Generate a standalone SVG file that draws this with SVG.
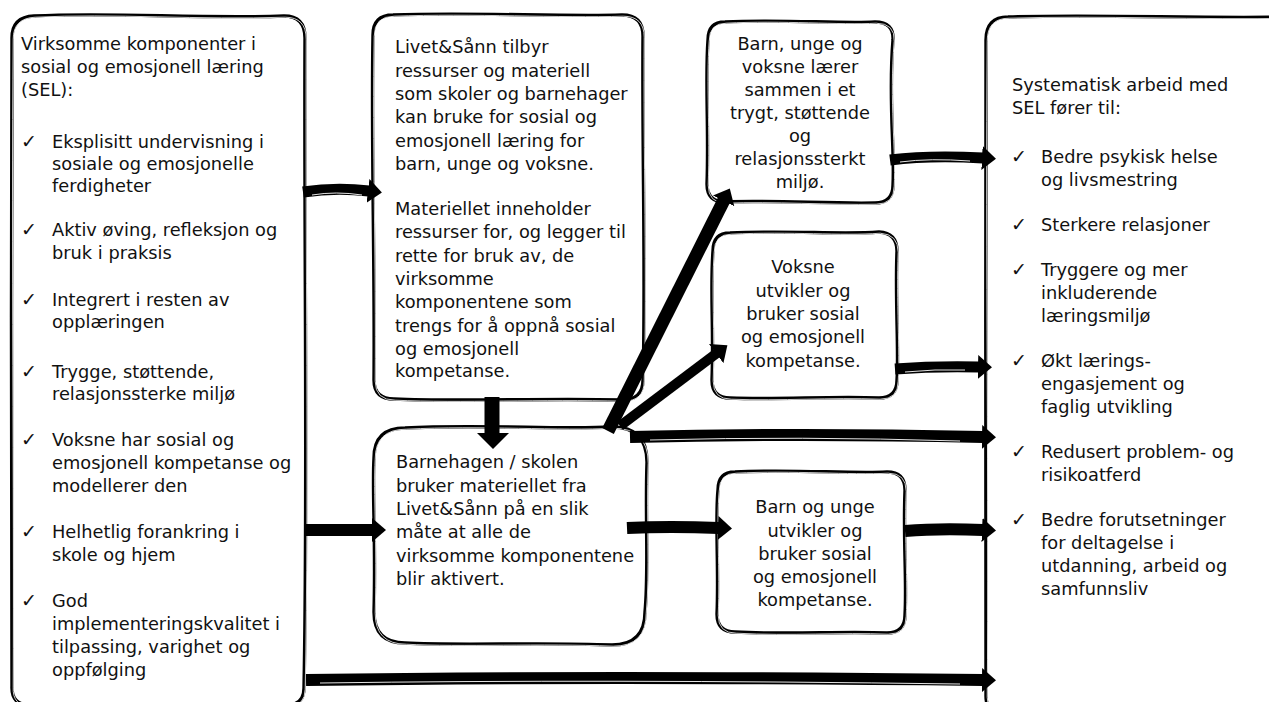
<svg xmlns="http://www.w3.org/2000/svg" width="1269" height="702" viewBox="0 0 1269 702">
<style>
.box{fill:#fff;stroke:#000;stroke-width:3.4;stroke-linejoin:round}
.inner{fill:none;stroke:#fff;stroke-width:0.8}
.t{font-family:"DejaVu Sans",sans-serif;font-size:17.8px;fill:#111}
.ck{font-family:"DejaVu Sans",sans-serif;font-size:19px;fill:#111}
.c{text-anchor:middle}
.arr{fill:none;stroke:#000;stroke-linecap:butt}
.hl{fill:none;stroke:#fff;stroke-width:0.9}
</style>
<defs>
<marker id="ah" markerUnits="userSpaceOnUse" markerWidth="16" markerHeight="26" refX="1" refY="12" orient="auto">
<path d="M0,0 L14,12 L0,24 Z" fill="#000"/>
</marker>
</defs>
<rect width="1269" height="702" fill="#fff"/>

<g id="node-left">
<path class="box" d="M34,16 C110,12 200,19 284,16 Q305,16 305,38 C304,250 308,480 304,688 Q304,705 287,705 L30,705 Q11,705 12,686 C13,480 10,250 12,38 Q12,17 34,16 Z"/>
<path class="inner" transform="translate(1.2,1.2)" d="M34,16 C110,12 200,19 284,16 Q305,16 305,38 C304,250 308,480 304,688 Q304,705 287,705 L30,705 Q11,705 12,686 C13,480 10,250 12,38 Q12,17 34,16 Z"/>
<text class="t" x="21" y="50">Virksomme komponenter i</text>
<text class="t" x="21" y="73">sosial og emosjonell læring</text>
<text class="t" x="21" y="96">(SEL):</text>
<text class="ck" x="21" y="148">✓</text>
<text class="t" x="52" y="148">Eksplisitt undervisning i</text>
<text class="t" x="52" y="170">sosiale og emosjonelle</text>
<text class="t" x="52" y="192">ferdigheter</text>
<text class="ck" x="21" y="236">✓</text>
<text class="t" x="52" y="236">Aktiv øving, refleksjon og</text>
<text class="t" x="52" y="259">bruk i praksis</text>
<text class="ck" x="21" y="306">✓</text>
<text class="t" x="52" y="306">Integrert i resten av</text>
<text class="t" x="52" y="328">opplæringen</text>
<text class="ck" x="21" y="378">✓</text>
<text class="t" x="52" y="378">Trygge, støttende,</text>
<text class="t" x="52" y="400">relasjonssterke miljø</text>
<text class="ck" x="21" y="446">✓</text>
<text class="t" x="52" y="446">Voksne har sosial og</text>
<text class="t" x="52" y="469">emosjonell kompetanse og</text>
<text class="t" x="52" y="492">modellerer den</text>
<text class="ck" x="21" y="538">✓</text>
<text class="t" x="52" y="538">Helhetlig forankring i</text>
<text class="t" x="52" y="561">skole og hjem</text>
<text class="ck" x="21" y="607">✓</text>
<text class="t" x="52" y="607">God</text>
<text class="t" x="52" y="630">implementeringskvalitet i</text>
<text class="t" x="52" y="653">tilpassing, varighet og</text>
<text class="t" x="52" y="676">oppfølging</text>
</g>

<g id="node-livet">
<path class="box" d="M393,15 C470,12 560,17 622,15 Q643,15 643,36 C642,150 646,280 643,380 Q643,400 622,400 C540,398 460,402 394,399 Q374,399 374,380 C375,260 371,140 373,35 Q373,15 393,15 Z"/>
<path class="inner" transform="translate(1.2,1.2)" d="M393,15 C470,12 560,17 622,15 Q643,15 643,36 C642,150 646,280 643,380 Q643,400 622,400 C540,398 460,402 394,399 Q374,399 374,380 C375,260 371,140 373,35 Q373,15 393,15 Z"/>
<text class="t" x="395" y="53">Livet&amp;Sånn tilbyr</text>
<text class="t" x="395" y="77">ressurser og materiell</text>
<text class="t" x="395" y="100">som skoler og barnehager</text>
<text class="t" x="395" y="123">kan bruke for sosial og</text>
<text class="t" x="395" y="147">emosjonell læring for</text>
<text class="t" x="395" y="170">barn, unge og voksne.</text>
<text class="t" x="395" y="215">Materiellet inneholder</text>
<text class="t" x="395" y="238">ressurser for, og legger til</text>
<text class="t" x="395" y="262">rette for bruk av, de</text>
<text class="t" x="395" y="285">virksomme</text>
<text class="t" x="395" y="308">komponentene som</text>
<text class="t" x="395" y="332">trengs for å oppnå sosial</text>
<text class="t" x="395" y="355">og emosjonell</text>
<text class="t" x="395" y="377">kompetanse.</text>
</g>

<g id="node-laerer">
<path class="box" d="M725,22 C780,19 840,24 875,22 Q894,22 893,40 C888,100 895,150 893,185 Q893,203 875,203 C830,204 770,200 725,202 Q707,202 707,184 C709,130 705,80 708,40 Q708,22 725,22 Z"/>
<path class="inner" transform="translate(1.2,1.2)" d="M725,22 C780,19 840,24 875,22 Q894,22 893,40 C888,100 895,150 893,185 Q893,203 875,203 C830,204 770,200 725,202 Q707,202 707,184 C709,130 705,80 708,40 Q708,22 725,22 Z"/>
<text class="t c" x="800" y="50">Barn, unge og</text>
<text class="t c" x="800" y="73">voksne lærer</text>
<text class="t c" x="800" y="96">sammen i et</text>
<text class="t c" x="800" y="119">trygt, støttende</text>
<text class="t c" x="800" y="142">og</text>
<text class="t c" x="800" y="165">relasjonssterkt</text>
<text class="t c" x="800" y="188">miljø.</text>
</g>

<g id="node-voksne">
<path class="box" d="M730,233 C790,230 840,235 879,232 Q897,233 897,251 C895,300 899,350 897,380 Q897,398 879,398 C830,396 780,400 730,398 Q712,398 712,380 C714,330 710,290 713,251 Q713,233 730,233 Z"/>
<path class="inner" transform="translate(1.2,1.2)" d="M730,233 C790,230 840,235 879,232 Q897,233 897,251 C895,300 899,350 897,380 Q897,398 879,398 C830,396 780,400 730,398 Q712,398 712,380 C714,330 710,290 713,251 Q713,233 730,233 Z"/>
<text class="t c" x="803" y="273">Voksne</text>
<text class="t c" x="803" y="297">utvikler og</text>
<text class="t c" x="803" y="320">bruker sosial</text>
<text class="t c" x="803" y="343">og emosjonell</text>
<text class="t c" x="803" y="367">kompetanse.</text>
</g>

<g id="node-barnehagen">
<path class="box" d="M405,428 C480,424 560,430 612,427 Q647,427 647,462 C645,520 649,570 645,612 Q645,645 612,645 C540,642 460,646 405,643 Q374,643 374,612 C376,540 372,490 374,458 Q374,428 405,428 Z"/>
<path class="inner" transform="translate(1.2,1.2)" d="M405,428 C480,424 560,430 612,427 Q647,427 647,462 C645,520 649,570 645,612 Q645,645 612,645 C540,642 460,646 405,643 Q374,643 374,612 C376,540 372,490 374,458 Q374,428 405,428 Z"/>
<text class="t" x="396" y="468">Barnehagen / skolen</text>
<text class="t" x="396" y="492">bruker materiellet fra</text>
<text class="t" x="396" y="515">Livet&amp;Sånn på en slik</text>
<text class="t" x="396" y="538">måte at alle de</text>
<text class="t" x="396" y="562">virksomme komponentene</text>
<text class="t" x="396" y="585">blir aktivert.</text>
</g>

<g id="node-barnunge">
<path class="box" d="M735,472 C790,469 850,474 887,472 Q905,472 905,490 C903,540 907,580 905,615 Q905,633 887,633 C840,631 790,635 735,632 Q717,632 717,614 C719,570 715,520 718,490 Q718,472 735,472 Z"/>
<path class="inner" transform="translate(1.2,1.2)" d="M735,472 C790,469 850,474 887,472 Q905,472 905,490 C903,540 907,580 905,615 Q905,633 887,633 C840,631 790,635 735,632 Q717,632 717,614 C719,570 715,520 718,490 Q718,472 735,472 Z"/>
<text class="t c" x="815" y="513">Barn og unge</text>
<text class="t c" x="815" y="537">utvikler og</text>
<text class="t c" x="815" y="560">bruker sosial</text>
<text class="t c" x="815" y="583">og emosjonell</text>
<text class="t c" x="815" y="606">kompetanse.</text>
</g>

<g id="node-right">
<path class="box" d="M1008,17 C1100,14 1200,19 1290,17 L1290,712 L1000,712 Q986,712 986,696 C988,500 984,250 986,40 Q986,17 1008,17 Z"/>
<path class="inner" transform="translate(1.2,1.2)" d="M1008,17 C1100,14 1200,19 1290,17 L1290,712 L1000,712 Q986,712 986,696 C988,500 984,250 986,40 Q986,17 1008,17 Z"/>
<text class="t" x="1012" y="91">Systematisk arbeid med</text>
<text class="t" x="1012" y="114">SEL fører til:</text>
<text class="ck" x="1011" y="163">✓</text>
<text class="t" x="1041" y="163">Bedre psykisk helse</text>
<text class="t" x="1041" y="186">og livsmestring</text>
<text class="ck" x="1011" y="231">✓</text>
<text class="t" x="1041" y="231">Sterkere relasjoner</text>
<text class="ck" x="1011" y="276">✓</text>
<text class="t" x="1041" y="276">Tryggere og mer</text>
<text class="t" x="1041" y="299">inkluderende</text>
<text class="t" x="1041" y="322">læringsmiljø</text>
<text class="ck" x="1011" y="367">✓</text>
<text class="t" x="1041" y="367">Økt lærings-</text>
<text class="t" x="1041" y="390">engasjement og</text>
<text class="t" x="1041" y="413">faglig utvikling</text>
<text class="ck" x="1011" y="458">✓</text>
<text class="t" x="1041" y="458">Redusert problem- og</text>
<text class="t" x="1041" y="481">risikoatferd</text>
<text class="ck" x="1011" y="526">✓</text>
<text class="t" x="1041" y="526">Bedre forutsetninger</text>
<text class="t" x="1041" y="549">for deltagelse i</text>
<text class="t" x="1041" y="572">utdanning, arbeid og</text>
<text class="t" x="1041" y="595">samfunnsliv</text>
</g>

<g id="connectors">
<path class="arr" stroke-width="11" marker-end="url(#ah)" d="M303,192 Q336,187 369,191"/>
<path class="arr" stroke-width="12" marker-end="url(#ah)" d="M306,530 L373,530"/>
<path class="arr" stroke-width="12" marker-end="url(#ah)" d="M306,680 Q600,676 983,680"/>
<path class="arr" stroke-width="15" d="M492,397 L492,434"/>
<path d="M477,433 L509,433 L493,449 Z" fill="#000"/>
<path class="arr" stroke-width="13" marker-end="url(#ah)" d="M608,431 L724,200"/>
<path class="arr" stroke-width="10" marker-end="url(#ah)" d="M620,426 L717,353"/>
<path class="arr" stroke-width="12" marker-end="url(#ah)" d="M630,437 Q800,433 983,437"/>
<path class="arr" stroke-width="12" marker-end="url(#ah)" d="M627,528 Q670,526 719,528"/>
<path class="arr" stroke-width="11" marker-end="url(#ah)" d="M890,160 Q930,155 983,158"/>
<path class="arr" stroke-width="11" marker-end="url(#ah)" d="M895,369 Q935,366 979,367"/>
<path class="arr" stroke-width="12" marker-end="url(#ah)" d="M905,531 Q940,528 983,530"/>
<path class="hl" d="M312,195 Q336,191 362,195"/>
<path class="hl" d="M320,683 Q600,679 960,684"/>
<path class="hl" d="M650,440 Q800,436 960,441"/>
<path class="hl" d="M900,162 Q930,158 970,161"/>
<path class="hl" d="M905,372 Q935,369 965,370"/>
</g>
</svg>
